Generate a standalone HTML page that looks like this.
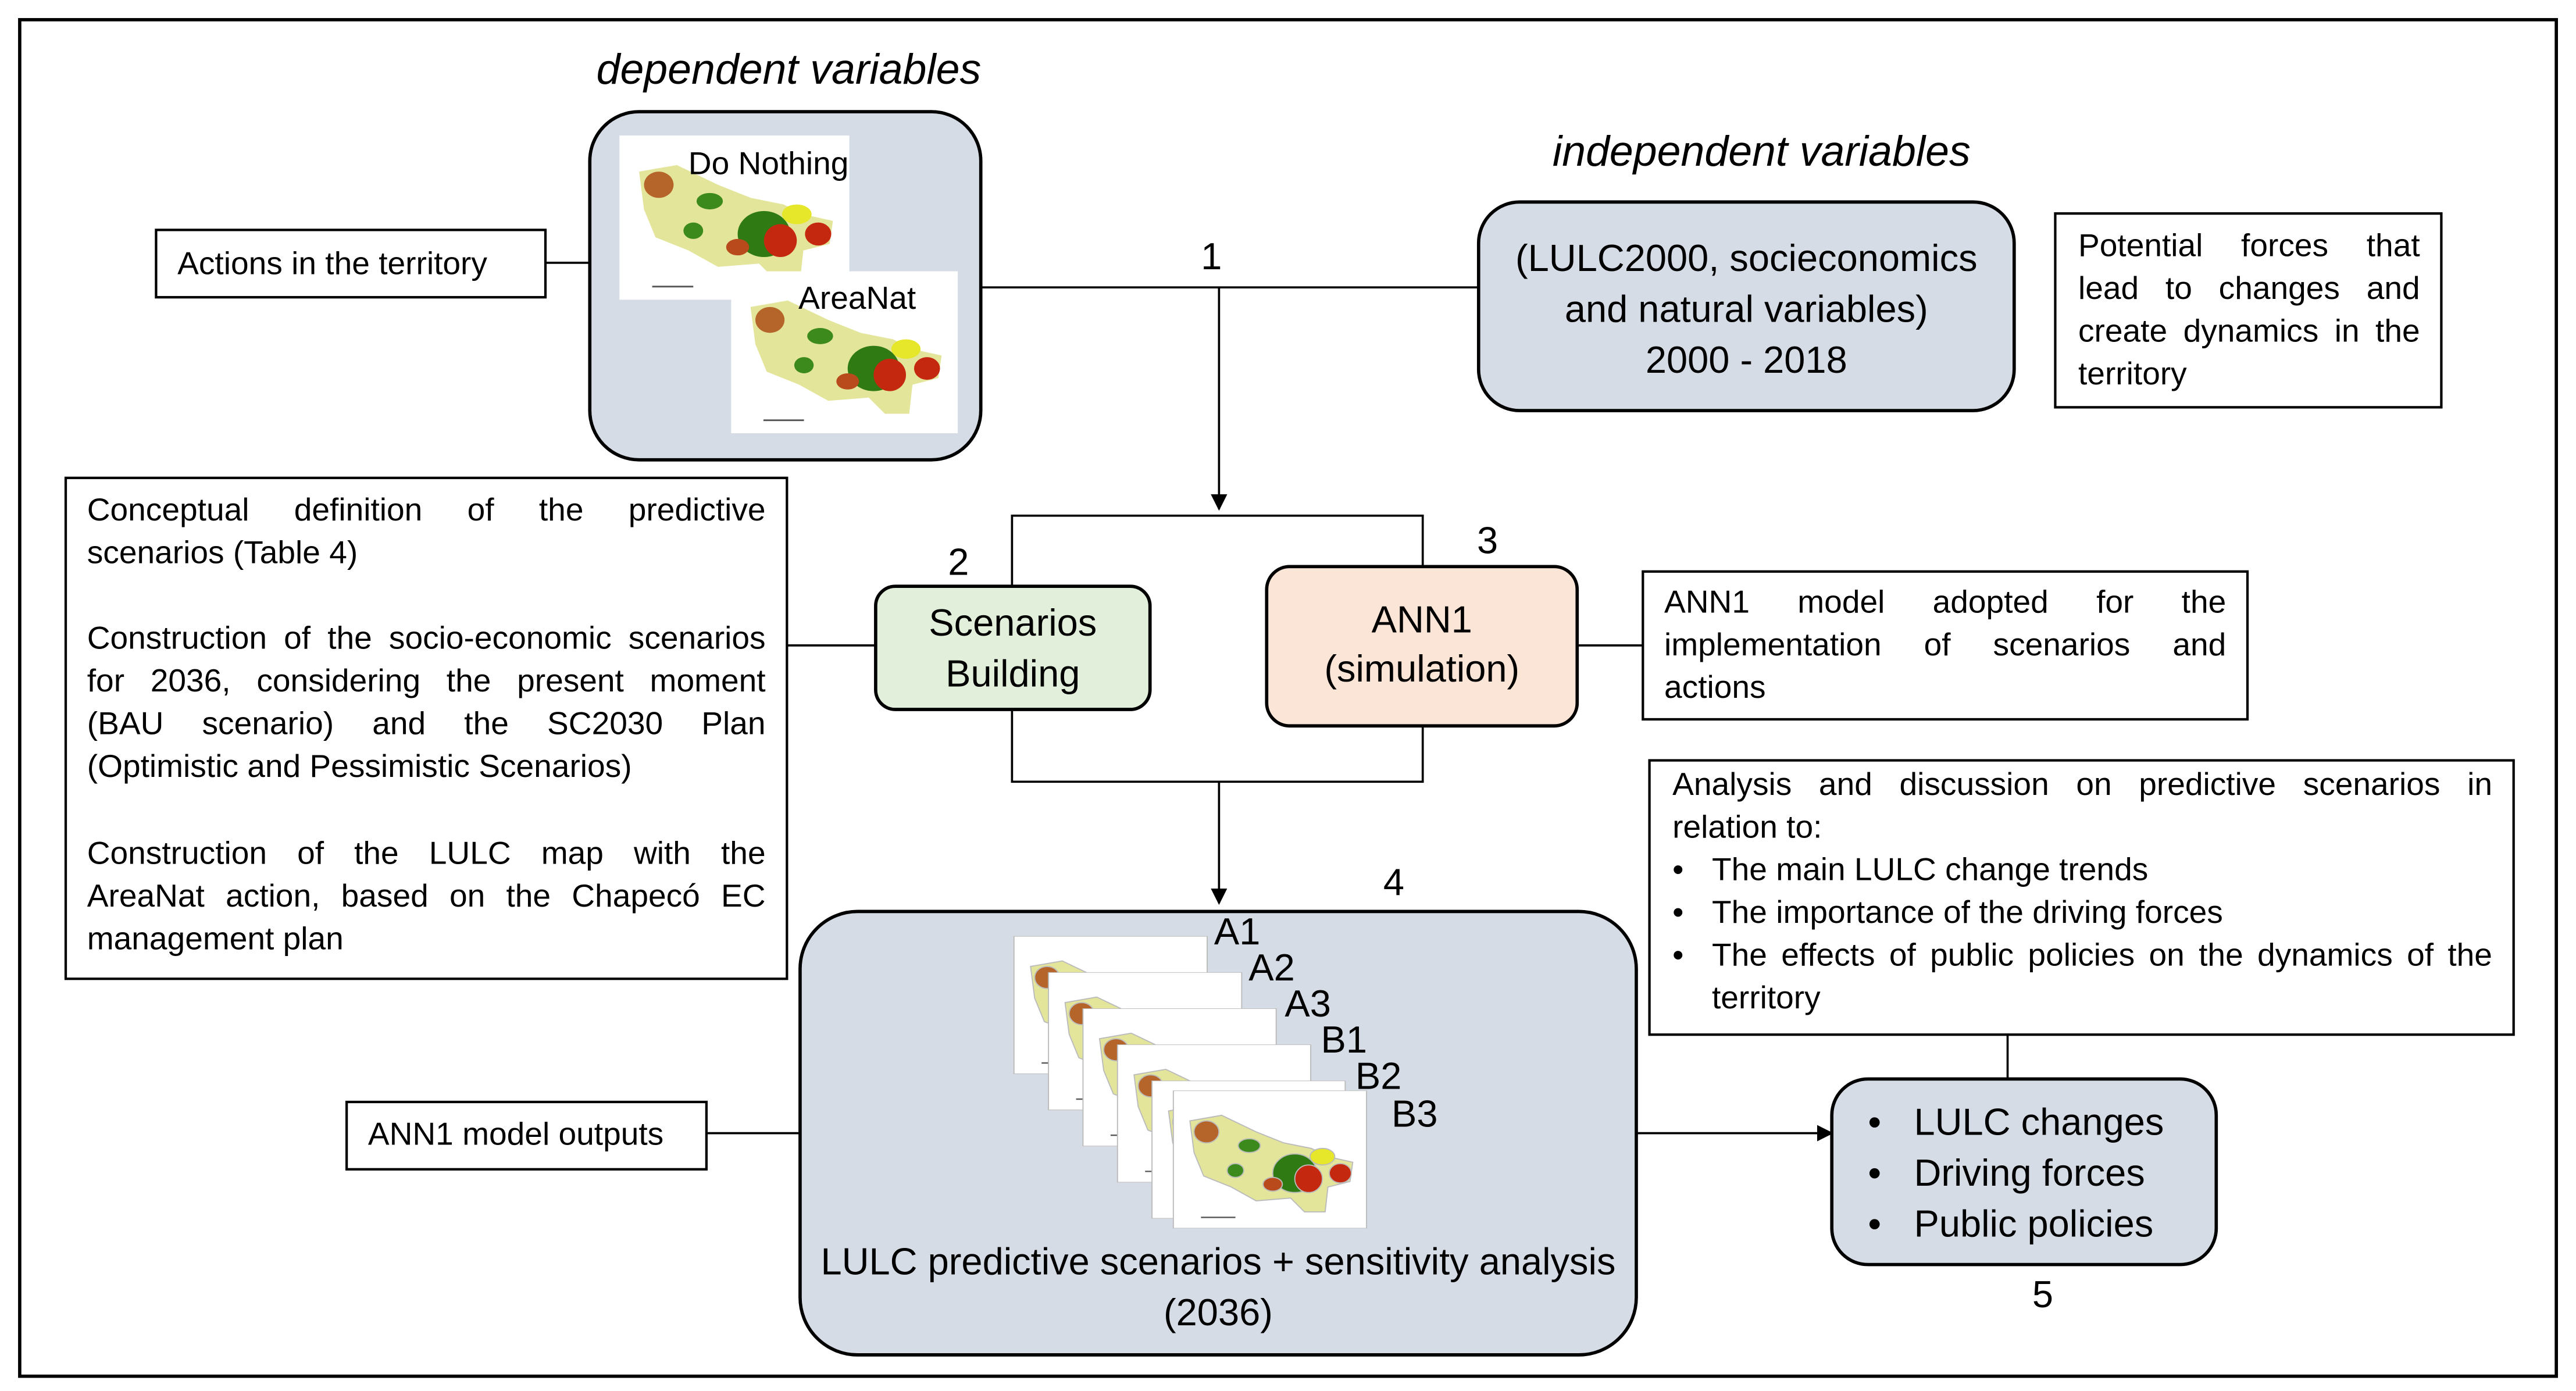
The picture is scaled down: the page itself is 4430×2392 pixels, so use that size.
<!DOCTYPE html>
<html><head><meta charset="utf-8"><style>
html,body{margin:0;padding:0;background:#fff;}
body{width:4430px;height:2392px;overflow:hidden;}
#c{position:absolute;left:0;top:0;width:1568px;height:847px;transform:scale(2.8253,2.8241);transform-origin:0 0;font-family:"Liberation Sans",sans-serif;color:#000;}
.t{position:absolute;white-space:nowrap;line-height:26px;}
.j{text-align:justify;text-align-last:justify;}
.s{font-size:19.5px;}
.m{font-size:23px;line-height:31px;}
svg{position:absolute;left:0;top:0;}
</style></head><body><div id="c">
<svg width="1568" height="847" viewBox="0 0 1568 847">
<defs>
<marker id="a" markerWidth="10" markerHeight="10" refX="9" refY="5" orient="auto" markerUnits="userSpaceOnUse"><path d="M0,0 L10,5 L0,10 z" fill="#000"/></marker>
<symbol id="map" viewBox="0 0 140 100">
<rect x="0" y="0" width="140" height="100" fill="#fff"/>
<polygon points="12,22 35,18 60,30 80,38 100,42 112,48 130,52 128,66 112,70 110,88 95,88 85,78 60,80 42,70 22,62 15,45" fill="#e3e59a"/>
<ellipse cx="88" cy="60" rx="16" ry="14" fill="#2f7a12"/>
<ellipse cx="98" cy="64" rx="10" ry="10" fill="#c4280e"/>
<ellipse cx="121" cy="60" rx="8" ry="7" fill="#c4280e"/>
<ellipse cx="108" cy="48" rx="9" ry="6" fill="#e6e62a"/>
<ellipse cx="24" cy="30" rx="9" ry="8" fill="#b5652a"/>
<ellipse cx="55" cy="40" rx="8" ry="5" fill="#3d8a1c"/>
<ellipse cx="45" cy="58" rx="6" ry="5" fill="#3d8a1c"/>
<ellipse cx="72" cy="68" rx="7" ry="5" fill="#b84a1c"/>
<line x1="20" y1="92" x2="45" y2="92" stroke="#555" stroke-width="1"/>
</symbol>
</defs>
<rect x="12" y="12" width="1544" height="826" fill="none" stroke="#000" stroke-width="2"/>
<rect x="359" y="68" width="238" height="212" rx="30" fill="#d6dce5" stroke="#000" stroke-width="2"/>
<use href="#map" x="377" y="82" width="140" height="101"/>
<use href="#map" x="445" y="165" width="138" height="99"/>
<rect x="95" y="140" width="237" height="41" fill="#fff" stroke="#000" stroke-width="1.5"/>
<line x1="332" y1="160" x2="359" y2="160" stroke="#000" stroke-width="1.3"/>
<line x1="597" y1="175" x2="900" y2="175" stroke="#000" stroke-width="1.3"/>
<line x1="742" y1="175" x2="742" y2="310" stroke="#000" stroke-width="1.3" marker-end="url(#a)"/>
<rect x="900" y="123" width="326" height="127" rx="25" fill="#d6dce5" stroke="#000" stroke-width="2"/>
<rect x="1251" y="130" width="235" height="118" fill="#fff" stroke="#000" stroke-width="1.5"/>
<rect x="616" y="314" width="250" height="162" fill="none" stroke="#000" stroke-width="1.3"/>
<rect x="533" y="357" width="167" height="75" rx="12" fill="#e2efda" stroke="#000" stroke-width="2"/>
<rect x="771" y="345" width="189" height="97" rx="14" fill="#fbe5d6" stroke="#000" stroke-width="2"/>
<line x1="742" y1="476" x2="742" y2="550" stroke="#000" stroke-width="1.3" marker-end="url(#a)"/>
<rect x="40" y="291" width="439" height="305" fill="#fff" stroke="#000" stroke-width="1.5"/>
<line x1="479" y1="393" x2="533" y2="393" stroke="#000" stroke-width="1.3"/>
<rect x="1000" y="348" width="368" height="90" fill="#fff" stroke="#000" stroke-width="1.5"/>
<line x1="960" y1="393" x2="1000" y2="393" stroke="#000" stroke-width="1.3"/>
<rect x="1004" y="463" width="526" height="167" fill="#fff" stroke="#000" stroke-width="1.5"/>
<line x1="1222" y1="630" x2="1222" y2="657" stroke="#000" stroke-width="1.3"/>
<rect x="487" y="555" width="509" height="270" rx="35" fill="#d6dce5" stroke="#000" stroke-width="2"/>
<g stroke="#bbb" stroke-width="0.8">
<use href="#map" x="616" y="570" width="120" height="84"/>
<use href="#map" x="637" y="592" width="120" height="84"/>
<use href="#map" x="658" y="614" width="120" height="84"/>
<use href="#map" x="679" y="636" width="120" height="84"/>
<use href="#map" x="700" y="658" width="120" height="84"/>
<use href="#map" x="712" y="664" width="122" height="84"/>
</g>
<rect x="211" y="671" width="219" height="41" fill="#fff" stroke="#000" stroke-width="1.5"/>
<line x1="430" y1="690" x2="487" y2="690" stroke="#000" stroke-width="1.3"/>
<line x1="996" y1="690" x2="1115" y2="690" stroke="#000" stroke-width="1.3" marker-end="url(#a)"/>
<rect x="1115" y="657" width="234" height="113" rx="22" fill="#d6dce5" stroke="#000" stroke-width="2"/>
</svg>

<div class="t" style="left:363px;top:26px;font-style:italic;font-size:26px;line-height:32px;">dependent variables</div>
<div class="t s" style="left:419px;top:87px;">Do Nothing</div>
<div class="t s" style="left:486px;top:169px;">AreaNat</div>
<div class="t s" style="left:108px;top:148px;">Actions in the territory</div>
<div class="t m" style="left:731px;top:141px;">1</div>
<div class="t" style="left:945px;top:76px;font-style:italic;font-size:26px;line-height:32px;">independent variables</div>
<div class="t m" style="left:890px;width:346px;text-align:center;top:142px;">(LULC2000, socieconomics</div>
<div class="t m" style="left:890px;width:346px;text-align:center;top:173px;">and natural variables)</div>
<div class="t m" style="left:890px;width:346px;text-align:center;top:204px;">2000 - 2018</div>
<div class="t s j" style="left:1265px;width:208px;top:137px;">Potential forces that</div>
<div class="t s j" style="left:1265px;width:208px;top:163px;">lead to changes and</div>
<div class="t s j" style="left:1265px;width:208px;top:189px;">create dynamics in the</div>
<div class="t s" style="left:1265px;top:215px;">territory</div>

<div class="t m" style="left:577px;top:327px;">2</div>
<div class="t m" style="left:899px;top:314px;">3</div>
<div class="t m" style="left:533px;width:167px;text-align:center;top:364px;">Scenarios</div>
<div class="t m" style="left:533px;width:167px;text-align:center;top:395px;">Building</div>
<div class="t m" style="left:771px;width:189px;text-align:center;top:362px;">ANN1</div>
<div class="t m" style="left:771px;width:189px;text-align:center;top:392px;">(simulation)</div>

<div class="t s j" style="left:53px;width:413px;top:298px;">Conceptual definition of the predictive</div>
<div class="t s" style="left:53px;top:324px;">scenarios (Table 4)</div>
<div class="t s j" style="left:53px;width:413px;top:376px;">Construction of the socio-economic scenarios</div>
<div class="t s j" style="left:53px;width:413px;top:402px;">for 2036, considering the present moment</div>
<div class="t s j" style="left:53px;width:413px;top:428px;">(BAU scenario) and the SC2030 Plan</div>
<div class="t s" style="left:53px;top:454px;">(Optimistic and Pessimistic Scenarios)</div>
<div class="t s j" style="left:53px;width:413px;top:507px;">Construction of the LULC map with the</div>
<div class="t s j" style="left:53px;width:413px;top:533px;">AreaNat action, based on the Chapecó EC</div>
<div class="t s" style="left:53px;top:559px;">management plan</div>

<div class="t s j" style="left:1013px;width:342px;top:354px;">ANN1 model adopted for the</div>
<div class="t s j" style="left:1013px;width:342px;top:380px;">implementation of scenarios and</div>
<div class="t s" style="left:1013px;top:406px;">actions</div>

<div class="t s j" style="left:1018px;width:499px;top:465px;">Analysis and discussion on predictive scenarios in</div>
<div class="t s" style="left:1018px;top:491px;">relation to:</div>
<div class="t s" style="left:1018px;top:517px;">•</div>
<div class="t s" style="left:1042px;top:517px;">The main LULC change trends</div>
<div class="t s" style="left:1018px;top:543px;">•</div>
<div class="t s" style="left:1042px;top:543px;">The importance of the driving forces</div>
<div class="t s" style="left:1018px;top:569px;">•</div>
<div class="t s j" style="left:1042px;width:475px;top:569px;">The effects of public policies on the dynamics of the</div>
<div class="t s" style="left:1042px;top:595px;">territory</div>

<div class="t m" style="left:842px;top:522px;">4</div>
<div class="t m" style="left:739px;top:552px;">A1</div>
<div class="t m" style="left:760px;top:574px;">A2</div>
<div class="t m" style="left:782px;top:596px;">A3</div>
<div class="t m" style="left:804px;top:618px;">B1</div>
<div class="t m" style="left:825px;top:640px;">B2</div>
<div class="t m" style="left:847px;top:663px;">B3</div>
<div class="t m" style="left:477px;width:529px;text-align:center;top:753px;">LULC predictive scenarios + sensitivity analysis</div>
<div class="t m" style="left:487px;width:509px;text-align:center;top:784px;">(2036)</div>
<div class="t s" style="left:224px;top:678px;">ANN1 model outputs</div>

<div class="t m" style="left:1137px;top:668px;">•</div>
<div class="t m" style="left:1165px;top:668px;">LULC changes</div>
<div class="t m" style="left:1137px;top:699px;">•</div>
<div class="t m" style="left:1165px;top:699px;">Driving forces</div>
<div class="t m" style="left:1137px;top:730px;">•</div>
<div class="t m" style="left:1165px;top:730px;">Public policies</div>
<div class="t m" style="left:1237px;top:773px;">5</div>
</div></body></html>
